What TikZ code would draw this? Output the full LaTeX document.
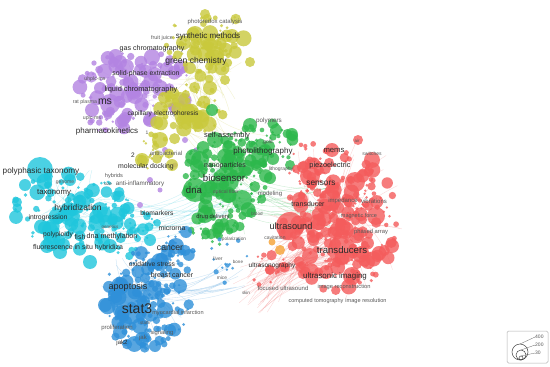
\documentclass[tikz,border=0pt]{standalone}
\usepackage{fontspec}
\setmainfont{Liberation Sans}
\definecolor{cpur}{HTML}{B384E2}
\definecolor{cyel}{HTML}{C9C93C}
\definecolor{cgrn}{HTML}{2DB84C}
\definecolor{cred}{HTML}{F45C5C}
\definecolor{ccya}{HTML}{1FC6DC}
\definecolor{cblu}{HTML}{2F90D9}
\definecolor{corg}{HTML}{F5A033}
\definecolor{ctxt}{HTML}{2A2A2A}
% random bubbles: cx cy sx sy n colour maxr
\newcommand\bubs[7]{%
  \foreach \i in {1,...,#5}{%
    \pgfmathsetmacro\ang{360*rnd}%
    \pgfmathsetmacro\rad{rnd^0.7}%
    \pgfmathsetmacro\px{#1+#3*\rad*cos(\ang)}%
    \pgfmathsetmacro\py{#2+#4*\rad*sin(\ang)}%
    \pgfmathsetmacro\rr{1.3+#7*rnd^2.5}%
    \fill[#6, bub] (\px,\py) circle[radius=\rr pt];
  }}
% random edges: cx cy sx sy n colour  (from centre area to spread)
\newcommand\edgs[6]{%
  \foreach \i in {1,...,#5}{%
    \pgfmathsetmacro\aa{360*rnd}%
    \pgfmathsetmacro\ab{360*rnd}%
    \pgfmathsetmacro\ra{0.4*rnd}%
    \pgfmathsetmacro\rb{rnd}%
    \pgfmathsetmacro\xa{#1+#3*\ra*cos(\aa)}%
    \pgfmathsetmacro\ya{#2+#4*\ra*sin(\aa)}%
    \pgfmathsetmacro\xb{#1+#3*\rb*cos(\ab)}%
    \pgfmathsetmacro\yb{#2+#4*\rb*sin(\ab)}%
    \draw[#6, edge] (\xa,\ya) to[bend left=12] (\xb,\yb);
  }}
% cross edges: x1 y1 x2 y2 spread n colour
\newcommand\xedgs[7]{%
  \foreach \i in {1,...,#6}{%
    \pgfmathsetmacro\xa{#1+#5*rand}%
    \pgfmathsetmacro\ya{#2+#5*rand}%
    \pgfmathsetmacro\xb{#3+#5*rand}%
    \pgfmathsetmacro\yb{#4+#5*rand}%
    \draw[#7, edge] (\xa,\ya) to[bend right=15] (\xb,\yb);
  }}
\tikzset{
  bub/.style={fill opacity=0.8},
  edge/.style={line width=0.35pt, draw opacity=0.25},
  lab/.style={font=\fontsize{#1}{#1}\selectfont, text=ctxt, inner sep=0pt},
  slab/.style={font=\fontsize{#1}{#1}\selectfont, text=black!65, inner sep=0pt},
}
\begin{document}
\begin{tikzpicture}[x=1pt,y=-1pt]
\useasboundingbox (0,0) rectangle (550,367);
\fill[white] (0,0) rectangle (550,367);
\pgfmathsetseed{20231}
% ---------- edges ----------
\edgs{340}{220}{75}{85}{80}{cred}
\xedgs{330}{240}{265}{280}{25}{35}{cred}
\xedgs{340}{260}{250}{295}{20}{20}{cred}
\edgs{225}{180}{50}{60}{45}{cgrn}
\edgs{140}{90}{60}{40}{35}{cpur}
\edgs{200}{80}{45}{60}{35}{cyel}
\edgs{70}{210}{65}{45}{40}{ccya}
\edgs{145}{290}{50}{60}{45}{cblu}
\xedgs{150}{290}{230}{275}{15}{14}{cblu}
\xedgs{120}{220}{230}{190}{25}{18}{ccya}
\xedgs{230}{190}{320}{210}{25}{18}{cgrn}
\xedgs{190}{110}{250}{160}{25}{14}{cyel}
% ---------- bubbles ----------
% purple
\bubs{135}{88}{58}{38}{110}{cpur}{7}
\bubs{108}{115}{25}{18}{22}{cpur}{5}
\foreach \x/\y/\r in {110/104/10,135/96/8,160/88/8,120/62/7,92/110/7,175/108/6,150/120/7,100/88/6,140/70/6,125/118/6,170/60/5}
  \fill[cpur,bub] (\x,\y) circle[radius=\r pt];
\foreach \x/\y/\r in {165/150/3,185/140/3,150/180/3,140/205/3,160/190/2.5,175/165/2.5,196/150/2.5}
  \fill[cpur,bub] (\x,\y) circle[radius=\r pt];
% yellow
\bubs{208}{45}{42}{36}{85}{cyel}{7}
\bubs{188}{112}{35}{30}{65}{cyel}{7}
\bubs{155}{152}{20}{20}{22}{cyel}{5}
\foreach \x/\y/\r in {215/55/9,195/34/8,232/36/7,180/100/8,200/120/9,160/140/8,142/160/7,172/165/6,210/88/7,250/62/5,205/14/5,190/68/6,225/80/5}
  \fill[cyel,bub] (\x,\y) circle[radius=\r pt];
% green
\bubs{225}{180}{42}{52}{140}{cgrn}{7}
\bubs{265}{145}{30}{25}{45}{cgrn}{5}
\bubs{215}{225}{25}{20}{28}{cgrn}{5}
\foreach \x/\y/\r in {195/190/12,226/180/13,200/160/9,242/200/10,260/156/9,215/140/8,276/130/6,250/125/7,205/215/8,232/226/7,290/165/5,212/110/6,270/178/6}
  \fill[cgrn,bub] (\x,\y) circle[radius=\r pt];
% red
\bubs{340}{220}{58}{72}{240}{cred}{7}
\bubs{310}{180}{30}{40}{45}{cred}{5}
\bubs{272}{272}{25}{20}{18}{cred}{4}
\foreach \x/\y/\r in {290/226/14,342/250/14,330/200/11,310/176/10,355/182/10,376/216/9,352/276/9,372/160/8,310/256/8,392/246/7,300/200/8,332/150/7,345/230/9,368/262/7,326/272/7,318/222/8,358/140/5,270/270/5}
  \fill[cred,bub] (\x,\y) circle[radius=\r pt];
% orange
\fill[corg,bub] (272,242) circle[radius=3.5pt];
\fill[corg,bub] (280,250) circle[radius=5pt];
% cyan
\bubs{72}{210}{60}{40}{140}{ccya}{7}
\bubs{130}{232}{30}{25}{35}{ccya}{5}
\foreach \x/\y/\r in {40/170/13,70/216/10,82/200/9,50/230/8,100/210/8,110/246/7,60/252/7,130/224/6,90/262/7,150/240/6,25/185/6,70/180/6,116/196/5}
  \fill[ccya,bub] (\x,\y) circle[radius=\r pt];
% blue
\bubs{145}{300}{45}{50}{130}{cblu}{7}
\bubs{170}{255}{25}{25}{40}{cblu}{5}
\bubs{228}{262}{20}{32}{14}{cblu}{1.5}
\foreach \x/\y/\r in {130/306/18,152/290/10,120/286/9,160/262/9,176/246/8,140/326/8,165/310/8,120/332/7,180/286/7,155/346/6,186/232/6,105/305/7,170/330/6}
  \fill[cblu,bub] (\x,\y) circle[radius=\r pt];
% ---------- labels ----------
% purple / yellow
\node[slab=6]   (l1)  at (215,22)  {photoredox catalysis};
\node[slab=5.4] (l2)  at (162,38)  {fruit juice};
\node[lab=8]    (l3)  at (208,36)  {synthetic methods};
\node[lab=7.1]  (l4)  at (152,49)  {gas chromatography};
\node[lab=8.6]  (l5)  at (196,61)  {green chemistry};
\node[lab=6.9]  (l6)  at (146,74)  {solid-phase extraction};
\node[slab=5.2] (l7)  at (95,79)   {uhplc-ms};
\node[lab=7.4]  (l8)  at (141,90)  {liquid chromatography};
\node[slab=5.2] (l9)  at (85,102)  {rat plasma};
\node[lab=10.5] (l10) at (105,102) {ms};
\node[slab=5.2] (l11) at (92,118)  {uplc-ms};
\node[lab=6.6]  (l12) at (163,114) {capillary electrophoresis};
\node[lab=8]    (l13) at (107,131) {pharmacokinetics};
\node[slab=5]   (l14) at (147,133) {1};
\node[lab=6.5]  (l15) at (133,155) {2};
\node[slab=6]   (l16) at (166,153) {antibacterial};
\node[lab=6.9]  (l17) at (146,167) {molecular docking};
% green
\node[lab=7.5]  (g1)  at (227,136) {self-assembly};
\node[slab=6.3] (g2)  at (269,121) {polymers};
\node[slab=5]   (g3)  at (268,142) {gold};
\node[lab=8]    (g4)  at (263,151) {photolithography};
\node[lab=7]    (g5)  at (225,166) {nanoparticles};
\node[slab=5]   (g6)  at (281,169) {lithography};
\node[lab=9.7]  (g7)  at (224,178) {biosensor};
\node[lab=9.6]  (g8)  at (194,190) {dna};
\node[slab=5]   (g9)  at (226,192) {optical fiber};
\node[slab=6]   (g10) at (270,194) {modeling};
\node[lab=5.8]  (g11) at (213,217) {drug delivery};
\node[slab=4.6] (g12) at (257,214) {blood};
% red
\node[slab=4.5] (r1)  at (357,141) {air};
\node[lab=7.7]  (r2)  at (334,150) {mems};
\node[slab=5]   (r3)  at (372,154) {switches};
\node[lab=7.4]  (r4)  at (330,166) {piezoelectric};
\node[lab=8.3]  (r5)  at (321,183) {sensors};
\node[slab=6]   (r6)  at (343,201) {impedance};
\node[slab=6]   (r7)  at (374,201) {vibrations};
\node[lab=7]    (r8)  at (308,204) {transducer};
\node[slab=5.5] (r9)  at (359,216) {magnetic force};
\node[lab=9.2]  (r10) at (291,226) {ultrasound};
\node[slab=5.8] (r11) at (371,232) {phased array};
\node[slab=5]   (r12) at (275,238) {cavitation};
\node[lab=9.6]  (r13) at (342,250) {transducers};
\node[lab=6.5]  (r14) at (272,266) {ultrasonography};
\node[lab=7.9]  (r15) at (335,276) {ultrasonic imaging};
\node[slab=6]   (r16) at (283,288) {focused ultrasound};
\node[slab=5.7] (r17) at (344,287) {image reconstruction};
\node[slab=5.5] (r18) at (316,301) {computed tomography};
\node[slab=5.6] (r19) at (366,301) {image resolution};
\node[slab=4.7] (r20) at (234,239) {polarization};
\node[slab=5]   (r21) at (218,259) {liver};
\node[slab=4.5] (r22) at (238,262) {bone};
\node[slab=4.8] (r23) at (222,278) {mice};
\node[slab=4.5] (r24) at (246,293) {skin};
% cyan
\node[lab=8.2]  (c1)  at (41,171)  {polyphasic taxonomy};
\node[slab=5.6] (c2)  at (114,176) {hybrids};
\node[slab=5]   (c3)  at (65,183)  {genome};
\node[slab=4.5] (c4)  at (108,184) {size};
\node[slab=6.3] (c5)  at (140,184) {anti-inflammatory};
\node[lab=7.8]  (c6)  at (54,193)  {taxonomy};
\node[lab=8.4]  (c7)  at (78,208)  {hybridization};
\node[lab=6.8]  (c8)  at (48,218)  {introgression};
\node[slab=4.5] (c9)  at (110,227) {genetics};
\node[lab=6.7]  (c10) at (58,235)  {polyploidy};
\node[lab=7]    (c11) at (80,237)  {fish};
\node[lab=7.2]  (c12) at (112,237) {dna methylation};
\node[lab=7]    (c13) at (78,248)  {fluorescence in situ hybridiza};
% blue
\node[lab=6.7]  (b1)  at (157,213) {biomarkers};
\node[lab=6.9]  (b2)  at (172,228) {microrna};
\node[lab=8.7]  (b3)  at (170,248) {cancer};
\node[lab=6.7]  (b4)  at (152,264) {oxidative stress};
\node[lab=7]    (b5)  at (172,275) {breast cancer};
\node[lab=9.1]  (b6)  at (128,287) {apoptosis};
\node[lab=14]   (b7)  at (137,309) {stat3};
\node[slab=5.6] (b8)  at (178,313) {myocardial infarction};
\node[slab=4.5] (b9)  at (145,323) {stat5};
\node[slab=6]   (b10) at (117,328) {proliferation};
\node[slab=5.8] (b11) at (162,333) {signaling};
\node[slab=6]   (b12) at (143,338) {jak};
\node[lab=6]    (b13) at (122,343) {jak2};
% ---------- legend ----------
\draw[black!30, rounded corners=1.5pt, line width=0.5pt] (507,331) rectangle (548,363);
\draw[black!75, line width=0.5pt] (520,352) circle[radius=8pt];
\draw[black!75, line width=0.5pt] (521,355) circle[radius=5pt];
\draw[black!75, line width=0.5pt] (521,358) circle[radius=2pt];
\coordinate (t1) at (520,344);
\coordinate (t2) at (521,350);
\coordinate (t3) at (521,356);
\node[slab=5, anchor=west] (k1) at (535,337) {400};
\node[slab=5, anchor=west] (k2) at (535,345) {200};
\node[slab=5, anchor=west] (k3) at (535,353) {30};
\draw[black!60, line width=0.3pt] (t1) -- (k1.west);
\draw[black!60, line width=0.3pt] (t2) -- (k2.west);
\draw[black!60, line width=0.3pt] (t3) -- (k3.west);
\end{tikzpicture}
\end{document}
